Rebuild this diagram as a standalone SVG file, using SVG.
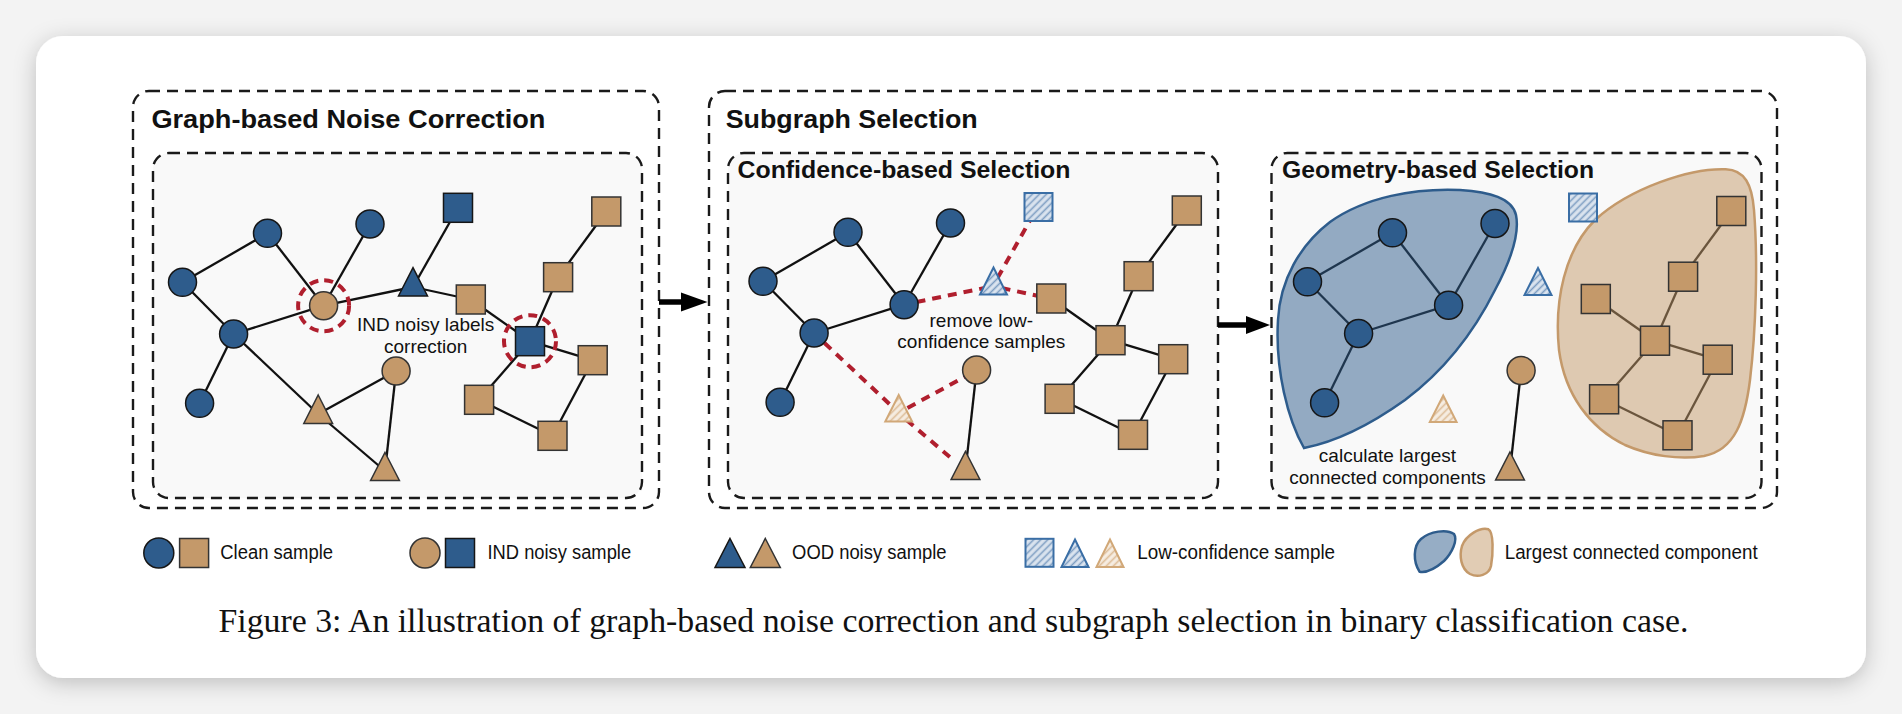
<svg xmlns="http://www.w3.org/2000/svg" width="1902" height="714" viewBox="0 0 1902 714">
<defs>
<filter id="sh" x="-5%" y="-10%" width="110%" height="125%">
<feDropShadow dx="0" dy="5" stdDeviation="11" flood-color="#000" flood-opacity="0.22"/>
</filter>
<pattern id="hatchB" patternUnits="userSpaceOnUse" width="5" height="5" patternTransform="rotate(45)">
<rect width="5" height="5" fill="#dbe4ef"/>
<line x1="2.5" y1="0" x2="2.5" y2="5" stroke="#7d9dc2" stroke-width="1.6"/>
</pattern>
<pattern id="hatchT" patternUnits="userSpaceOnUse" width="5" height="5" patternTransform="rotate(45)">
<rect width="5" height="5" fill="#f6ede2"/>
<line x1="2.5" y1="0" x2="2.5" y2="5" stroke="#dcbb96" stroke-width="1.6"/>
</pattern>
<style>
.dbox{fill:none;stroke:#1a1a1a;stroke-width:2.4;stroke-dasharray:11 7}
.ibox{fill:#f9f9f9;stroke:#1a1a1a;stroke-width:2.4;stroke-dasharray:11 7}
.title{font-family:"Liberation Sans",Arial,Helvetica,sans-serif;font-weight:bold;fill:#111}
.lbl{font-family:"Liberation Sans",Arial,Helvetica,sans-serif;font-size:19px;fill:#111;text-anchor:middle}
.leg{font-family:"Liberation Sans",Arial,Helvetica,sans-serif;font-size:19.5px;fill:#111}
.cap{font-family:"Liberation Serif","Times New Roman",serif;font-size:33.5px;fill:#111}
.edge{stroke:#111;stroke-width:2.3;fill:none}
.rdash{stroke:#b01f2e;stroke-width:4;stroke-dasharray:9 7;fill:none}
.rcirc{stroke:#b01f2e;stroke-width:4;stroke-dasharray:9 6;fill:none}
.blue{fill:#2e5c8c;stroke:#161616;stroke-width:1.5}
.tan{fill:#c4996a;stroke:#333;stroke-width:1.5}
.hb{fill:url(#hatchB);stroke:#3a6ea5;stroke-width:2}
.ht{fill:url(#hatchT);stroke:#d1a878;stroke-width:2}
.arrow{stroke:#000;stroke-width:5.5;fill:none}
.head{fill:#000}
.bblob{fill:#2e5c8c;fill-opacity:0.5;stroke:#2e5c8c;stroke-width:2.5}
.tblob{fill:#c4996a;fill-opacity:0.5;stroke:#c4996a;stroke-width:2.5}
</style>
</defs>

<rect width="1902" height="714" fill="#f3f3f3"/>
<rect x="36" y="36" width="1830" height="642" rx="27" fill="#ffffff" filter="url(#sh)"/>

<!-- Frames -->
<g id="frames">
<rect class="dbox" x="133" y="91" width="526" height="417" rx="16"/>
<rect class="ibox" x="153" y="153" width="489" height="345" rx="16"/>
<rect class="dbox" x="709" y="91" width="1068" height="417" rx="16"/>
<rect class="ibox" x="728" y="153" width="490" height="345" rx="16"/>
<rect class="ibox" x="1271.5" y="153" width="490" height="345" rx="16"/>
</g>

<g id="titles">
<text class="title" x="151.4" y="128.3" font-size="26.5" textLength="394" lengthAdjust="spacingAndGlyphs">Graph-based Noise Correction</text>
<text class="title" x="725.7" y="128.3" font-size="26.5" textLength="252" lengthAdjust="spacingAndGlyphs">Subgraph Selection</text>
<text class="title" x="737.5" y="177.7" font-size="23" textLength="333" lengthAdjust="spacingAndGlyphs">Confidence-based Selection</text>
<text class="title" x="1282.1" y="178.3" font-size="23" textLength="312" lengthAdjust="spacingAndGlyphs">Geometry-based Selection</text>
</g>

<!-- Arrows between panels -->
<g id="arrows">
<line class="arrow" x1="659" y1="302" x2="684" y2="302"/>
<polygon class="head" points="681,292.5 707.5,302 681,311.5"/>
<line class="arrow" x1="1218" y1="325" x2="1249" y2="325"/>
<polygon class="head" points="1246,316 1270,325 1246,334"/>
</g>

<!-- ===== Panel 1: Graph-based Noise Correction ===== -->
<g id="p1-connectors">
<line class="edge" x1="182.5" y1="282.3" x2="267.5" y2="233.3"/>
<line class="edge" x1="267.5" y1="233.3" x2="323.6" y2="305.7"/>
<line class="edge" x1="370" y1="224" x2="323.6" y2="305.7"/>
<line class="edge" x1="182.5" y1="282.3" x2="233.6" y2="334"/>
<line class="edge" x1="233.6" y1="334" x2="323.6" y2="305.7"/>
<line class="edge" x1="233.6" y1="334" x2="199.6" y2="403.3"/>
<line class="edge" x1="233.6" y1="334" x2="318.2" y2="414"/>
<line class="edge" x1="323.6" y1="305.7" x2="413" y2="287"/>
<line class="edge" x1="413" y1="287" x2="458" y2="207.8"/>
<line class="edge" x1="413" y1="287" x2="470.8" y2="299.5"/>
<line class="edge" x1="470.8" y1="299.5" x2="530" y2="341.2"/>
<line class="edge" x1="530" y1="341.2" x2="558.1" y2="277.2"/>
<line class="edge" x1="558.1" y1="277.2" x2="606.3" y2="211.5"/>
<line class="edge" x1="530" y1="341.2" x2="592.7" y2="360.2"/>
<line class="edge" x1="530" y1="341.2" x2="479.1" y2="399.8"/>
<line class="edge" x1="479.1" y1="399.8" x2="552.5" y2="435.8"/>
<line class="edge" x1="552.5" y1="435.8" x2="592.7" y2="360.2"/>
<line class="edge" x1="318.2" y1="414" x2="396.1" y2="371"/>
<line class="edge" x1="318.2" y1="414" x2="385" y2="471"/>
<line class="edge" x1="396.1" y1="371" x2="385" y2="471"/>
</g>
<g id="p1-A"><circle class="blue" cx="182.5" cy="282.3" r="14"/></g>
<g id="p1-B"><circle class="blue" cx="267.5" cy="233.3" r="14"/></g>
<g id="p1-C"><circle class="blue" cx="370" cy="224" r="14"/></g>
<g id="p1-D"><circle class="blue" cx="233.6" cy="334" r="14"/></g>
<g id="p1-E"><circle class="blue" cx="199.6" cy="403.3" r="14"/></g>
<g id="p1-F"><circle class="tan" cx="323.6" cy="305.7" r="14"/><circle class="rcirc" cx="323.6" cy="305.7" r="25.5"/></g>
<g id="p1-G"><polygon class="blue" points="413,267.7 427.5,296 398.5,296"/></g>
<g id="p1-H"><rect class="blue" x="443.5" y="193.3" width="29" height="29"/></g>
<g id="p1-I"><rect class="tan" x="456.3" y="285" width="29" height="29"/></g>
<g id="p1-J"><rect class="blue" x="515.5" y="326.7" width="29" height="29"/><circle class="rcirc" cx="530" cy="341.2" r="26"/></g>
<g id="p1-K"><rect class="tan" x="543.6" y="262.7" width="29" height="29"/></g>
<g id="p1-L"><rect class="tan" x="591.8" y="197" width="29" height="29"/></g>
<g id="p1-M"><rect class="tan" x="578.2" y="345.7" width="29" height="29"/></g>
<g id="p1-N"><rect class="tan" x="464.6" y="385.3" width="29" height="29"/></g>
<g id="p1-O"><rect class="tan" x="538" y="421.3" width="29" height="29"/></g>
<g id="p1-P"><circle class="tan" cx="396.1" cy="371" r="14"/></g>
<g id="p1-Q"><polygon class="tan" points="318.2,395 332.6,423.5 303.8,423.5"/></g>
<g id="p1-R"><polygon class="tan" points="385,452.5 399.4,480.5 370.6,480.5"/></g>
<g id="p1-label">
<text class="lbl" x="425.7" y="330.7">IND noisy labels</text>
<text class="lbl" x="425.7" y="352.7">correction</text>
</g>

<!-- ===== Panel 2: Confidence-based Selection ===== -->
<g id="p2-connectors" transform="translate(580.5,-1)">
<line class="edge" x1="182.5" y1="282.3" x2="267.5" y2="233.3"/>
<line class="edge" x1="267.5" y1="233.3" x2="323.6" y2="305.7"/>
<line class="edge" x1="370" y1="224" x2="323.6" y2="305.7"/>
<line class="edge" x1="182.5" y1="282.3" x2="233.6" y2="334"/>
<line class="edge" x1="233.6" y1="334" x2="323.6" y2="305.7"/>
<line class="edge" x1="233.6" y1="334" x2="199.6" y2="403.3"/>
<line class="edge" x1="396.1" y1="371" x2="385" y2="471"/>
<line class="edge" x1="470.8" y1="299.5" x2="530" y2="341.2"/>
<line class="edge" x1="530" y1="341.2" x2="558.1" y2="277.2"/>
<line class="edge" x1="558.1" y1="277.2" x2="606.3" y2="211.5"/>
<line class="edge" x1="530" y1="341.2" x2="592.7" y2="360.2"/>
<line class="edge" x1="530" y1="341.2" x2="479.1" y2="399.8"/>
<line class="edge" x1="479.1" y1="399.8" x2="552.5" y2="435.8"/>
<line class="edge" x1="552.5" y1="435.8" x2="592.7" y2="360.2"/>
<line class="rdash" x1="336" y1="303" x2="404" y2="289"/>
<line class="rdash" x1="421" y1="289" x2="458" y2="297"/>
<line class="rdash" x1="417" y1="279" x2="452" y2="217"/>
<line class="rdash" x1="244" y1="344" x2="310" y2="406"/>
<line class="rdash" x1="327" y1="409" x2="384" y2="378"/>
<line class="rdash" x1="326" y1="421" x2="374" y2="462"/>
</g>
<g transform="translate(580.5,-1)">
<g id="p2-A"><circle class="blue" cx="182.5" cy="282.3" r="14"/></g>
<g id="p2-B"><circle class="blue" cx="267.5" cy="233.3" r="14"/></g>
<g id="p2-C"><circle class="blue" cx="370" cy="224" r="14"/></g>
<g id="p2-D"><circle class="blue" cx="233.6" cy="334" r="14"/></g>
<g id="p2-E"><circle class="blue" cx="199.6" cy="403.3" r="14"/></g>
<g id="p2-F"><circle class="blue" cx="323.6" cy="305.7" r="14"/></g>
<g id="p2-G"><polygon class="hb" points="413,268.5 426.5,295.5 399.5,295.5"/></g>
<g id="p2-H"><rect class="hb" x="444" y="194" width="28" height="28"/></g>
<g id="p2-I"><rect class="tan" x="456.3" y="285" width="29" height="29"/></g>
<g id="p2-J"><rect class="tan" x="515.5" y="326.7" width="29" height="29"/></g>
<g id="p2-K"><rect class="tan" x="543.6" y="262.7" width="29" height="29"/></g>
<g id="p2-L"><rect class="tan" x="591.8" y="197" width="29" height="29"/></g>
<g id="p2-M"><rect class="tan" x="578.2" y="345.7" width="29" height="29"/></g>
<g id="p2-N"><rect class="tan" x="464.6" y="385.3" width="29" height="29"/></g>
<g id="p2-O"><rect class="tan" x="538" y="421.3" width="29" height="29"/></g>
<g id="p2-P"><circle class="tan" cx="396.1" cy="371" r="14"/></g>
<g id="p2-Q"><polygon class="ht" points="318.2,396 331.6,422.5 304.8,422.5"/></g>
<g id="p2-R"><polygon class="tan" points="385,452.5 399.4,480.5 370.6,480.5"/></g>
</g>
<g id="p2-label">
<text class="lbl" x="981.3" y="326.7">remove low-</text>
<text class="lbl" x="981.3" y="348.3">confidence samples</text>
</g>

<!-- ===== Panel 3: Geometry-based Selection ===== -->
<g id="p3-connectors" transform="translate(1125,-0.5)">
<line class="edge" x1="182.5" y1="282.3" x2="267.5" y2="233.3"/>
<line class="edge" x1="267.5" y1="233.3" x2="323.6" y2="305.7"/>
<line class="edge" x1="370" y1="224" x2="323.6" y2="305.7"/>
<line class="edge" x1="182.5" y1="282.3" x2="233.6" y2="334"/>
<line class="edge" x1="233.6" y1="334" x2="323.6" y2="305.7"/>
<line class="edge" x1="233.6" y1="334" x2="199.6" y2="403.3"/>
<line class="edge" x1="396.1" y1="371" x2="385" y2="471"/>
<line class="edge" x1="470.8" y1="299.5" x2="530" y2="341.2"/>
<line class="edge" x1="530" y1="341.2" x2="558.1" y2="277.2"/>
<line class="edge" x1="558.1" y1="277.2" x2="606.3" y2="211.5"/>
<line class="edge" x1="530" y1="341.2" x2="592.7" y2="360.2"/>
<line class="edge" x1="530" y1="341.2" x2="479.1" y2="399.8"/>
<line class="edge" x1="479.1" y1="399.8" x2="552.5" y2="435.8"/>
<line class="edge" x1="552.5" y1="435.8" x2="592.7" y2="360.2"/>
</g>
<g id="p3-components">
<path class="bblob" d="M1304,448 C1288,420 1275,370 1278,320 C1280,280 1300,245 1330,222 C1365,197 1415,188 1460,190 C1490,192 1512,198 1516,215 C1520,235 1510,262 1495,290 C1475,330 1445,370 1405,400 C1370,425 1335,442 1304,448 Z"/>
<path class="tblob" d="M1725.7,169.3 C1745,170 1752,185 1754,210 C1758,260 1756,330 1750,380 C1745,420 1735,450 1704,456 C1680,460 1650,456 1625,445 C1590,428 1565,395 1559,350 C1554,300 1565,250 1595,220 C1630,188 1690,168 1725.7,169.3 Z"/>
</g>
<g transform="translate(1125,-0.5)">
<g id="p3-A"><circle class="blue" cx="182.5" cy="282.3" r="14"/></g>
<g id="p3-B"><circle class="blue" cx="267.5" cy="233.3" r="14"/></g>
<g id="p3-C"><circle class="blue" cx="370" cy="224" r="14"/></g>
<g id="p3-D"><circle class="blue" cx="233.6" cy="334" r="14"/></g>
<g id="p3-E"><circle class="blue" cx="199.6" cy="403.3" r="14"/></g>
<g id="p3-F"><circle class="blue" cx="323.6" cy="305.7" r="14"/></g>
<g id="p3-G"><polygon class="hb" points="413,268.5 426.5,295.5 399.5,295.5"/></g>
<g id="p3-H"><rect class="hb" x="444" y="194" width="28" height="28"/></g>
<g id="p3-I"><rect class="tan" x="456.3" y="285" width="29" height="29"/></g>
<g id="p3-J"><rect class="tan" x="515.5" y="326.7" width="29" height="29"/></g>
<g id="p3-K"><rect class="tan" x="543.6" y="262.7" width="29" height="29"/></g>
<g id="p3-L"><rect class="tan" x="591.8" y="197" width="29" height="29"/></g>
<g id="p3-M"><rect class="tan" x="578.2" y="345.7" width="29" height="29"/></g>
<g id="p3-N"><rect class="tan" x="464.6" y="385.3" width="29" height="29"/></g>
<g id="p3-O"><rect class="tan" x="538" y="421.3" width="29" height="29"/></g>
<g id="p3-P"><circle class="tan" cx="396.1" cy="371" r="14"/></g>
<g id="p3-Q"><polygon class="ht" points="318.2,396 331.6,422.5 304.8,422.5"/></g>
<g id="p3-R"><polygon class="tan" points="385,452.5 399.4,480.5 370.6,480.5"/></g>
</g>
<g id="p3-label">
<text class="lbl" x="1387.5" y="461.7">calculate largest</text>
<text class="lbl" x="1387.5" y="484">connected components</text>
</g>

<!-- ===== Legend ===== -->
<g id="legend-clean">
<circle class="blue" cx="158.8" cy="553" r="15"/>
<rect class="tan" x="179.6" y="538.5" width="29" height="29"/>
<text class="leg" x="220.3" y="559.3" textLength="112.7" lengthAdjust="spacingAndGlyphs">Clean sample</text>
</g>
<g id="legend-ind">
<circle class="tan" cx="425" cy="553" r="15"/>
<rect class="blue" x="445.5" y="538.5" width="29" height="29"/>
<text class="leg" x="487.5" y="559.3" textLength="143.6" lengthAdjust="spacingAndGlyphs">IND noisy sample</text>
</g>
<g id="legend-ood">
<polygon class="blue" points="730,538.5 745,567.5 715,567.5"/>
<polygon class="tan" points="765.3,538.5 780.3,567.5 750.3,567.5"/>
<text class="leg" x="792.1" y="559.3" textLength="154.5" lengthAdjust="spacingAndGlyphs">OOD noisy sample</text>
</g>
<g id="legend-low">
<rect class="hb" x="1025.5" y="538.8" width="28" height="28"/>
<polygon class="hb" points="1075,539.5 1088.5,567 1061.5,567"/>
<polygon class="ht" points="1110,539.5 1123.5,567 1096.5,567"/>
<text class="leg" x="1137.2" y="559.3" textLength="197.9" lengthAdjust="spacingAndGlyphs">Low-confidence sample</text>
</g>
<g id="legend-lcc">
<path class="bblob" d="M1419.6,571.7 C1413,562 1413,546 1421,539 C1430,531 1447,529 1454,534 C1458,540 1452,553 1444,561 C1436,568 1427,573 1419.6,571.7 Z"/>
<path class="tblob" d="M1488.4,529.3 C1494,532 1493,555 1491,566 C1489,575 1478,578 1470,574 C1461,569 1459,556 1462,546 C1466,535 1480,527 1488.4,529.3 Z"/>
<text class="leg" x="1504.7" y="559.3" textLength="253" lengthAdjust="spacingAndGlyphs">Largest connected component</text>
</g>

<text class="cap" x="218.5" y="632" textLength="1470" lengthAdjust="spacingAndGlyphs">Figure 3: An illustration of graph-based noise correction and subgraph selection in binary classification case.</text>
</svg>
